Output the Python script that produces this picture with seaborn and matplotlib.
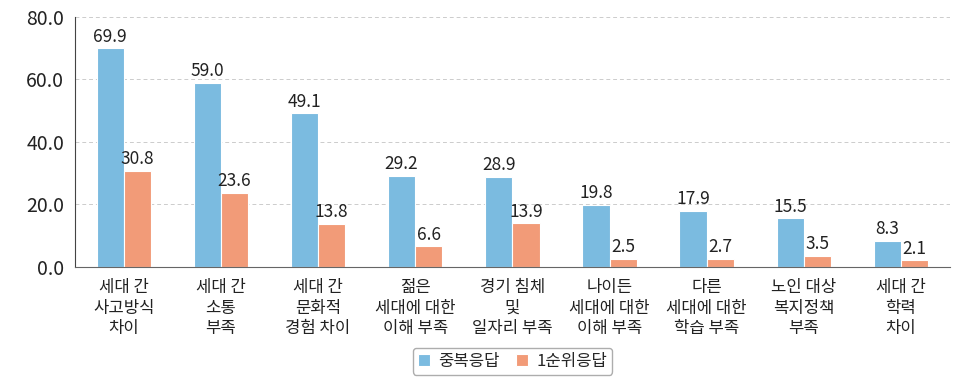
import numpy as np
import pandas as pd
import matplotlib
matplotlib.use("Agg")
import matplotlib.pyplot as plt
import seaborn as sns

# data
categories = ["세대 간\n사고방식\n차이", "세대 간\n소통\n부족", "세대 간\n문화적\n경험 차이",
              "젊은\n세대에 대한\n이해 부족", "경기 침체\n및\n일자리 부족", "나이든\n세대에 대한\n이해 부족",
              "다른\n세대에 대한\n학습 부족", "노인 대상\n복지정책\n부족", "세대 간\n학력\n차이"]
multi = [69.9, 59.0, 49.1, 29.2, 28.9, 19.8, 17.9, 15.5, 8.3]
first = [30.8, 23.6, 13.8, 6.6, 13.9, 2.5, 2.7, 3.5, 2.1]
series = ["중복응답", "1순위응답"]
y_ticks = [0, 20, 40, 60, 80]

df = pd.DataFrame({
    "category": categories * 2,
    "value": multi + first,
    "series": [series[0]] * len(categories) + [series[1]] * len(categories),
})

sns.set_style("white")
plt.rcParams["font.family"] = ["Noto Sans CJK KR", "DejaVu Sans"]

fig = plt.figure(figsize=(9.64, 3.83), dpi=100)
ax = fig.add_axes([0.078, 0.303, 0.907, 0.653])

palette = {series[0]: "#7bbbe0", series[1]: "#f29b78"}
sns.barplot(data=df, x="category", y="value", hue="series", palette=palette,
            width=0.56, gap=0.0, saturation=1, edgecolor="white", linewidth=0.8,
            ax=ax, legend=True)

for cont in ax.containers:
    ax.bar_label(cont, fmt="%.1f", padding=2, fontsize=12.5, color="#222222")

ax.set_ylim(0, 80)
ax.set_xlim(-0.5, len(categories) - 0.5)
ax.set_yticks(y_ticks)
ax.set_yticklabels([f"{v:.1f}" for v in y_ticks], fontsize=14, color="#222222")
ax.yaxis.grid(True, linestyle=(0, (4, 3)), color="#cccccc", linewidth=0.7)
ax.set_axisbelow(True)

ax.tick_params(axis="y", length=0, pad=8)
ax.tick_params(axis="x", which="major", length=0, pad=9, labelsize=12, labelcolor="#222222")
for lbl in ax.get_xticklabels():
    lbl.set_linespacing(1.25)
ax.set_xticks(np.arange(-0.5, len(categories)), minor=True)
ax.tick_params(axis="x", which="minor", direction="in", length=6, color="#666666")

ax.set_xlabel("")
ax.set_ylabel("")
for s in ["top", "right"]:
    ax.spines[s].set_visible(False)
ax.spines["left"].set_color("#444444")
ax.spines["bottom"].set_color("#666666")

handles, labels = ax.get_legend_handles_labels()
ax.legend(handles, labels, loc="upper center", bbox_to_anchor=(0.5, -0.29), ncol=2,
          frameon=True, fancybox=True, edgecolor="#999999", fontsize=12,
          handlelength=0.7, handleheight=0.7, handletextpad=0.5, columnspacing=1.0,
          borderpad=0.3)

fig.savefig("out.png", dpi=100)
